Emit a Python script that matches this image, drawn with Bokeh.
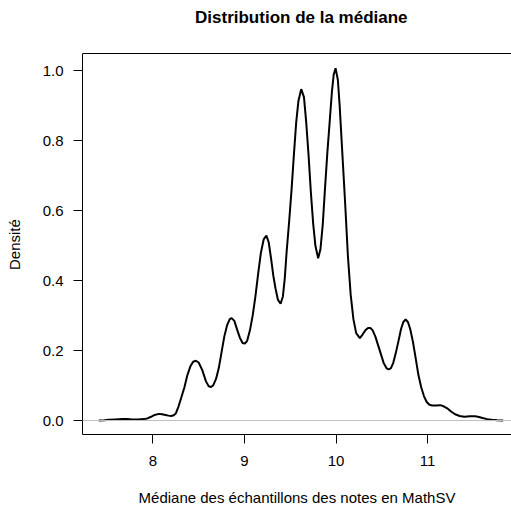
from bokeh.plotting import figure
from bokeh.models import LinearAxis, FixedTicker, PrintfTickFormatter, Span, Range1d, Label
from bokeh.embed import file_html
from bokeh.resources import INLINE

# Density of the median
dens_x = [7.41, 7.47, 7.52, 7.59, 7.666, 7.72, 7.775, 7.84, 7.90, 7.94, 7.975,
          8.02, 8.066, 8.10, 8.139, 8.17, 8.20, 8.228, 8.25, 8.28, 8.31, 8.345,
          8.375, 8.41, 8.44, 8.47, 8.50, 8.54, 8.58, 8.61, 8.635, 8.66, 8.69,
          8.72, 8.75, 8.78, 8.81, 8.84, 8.86, 8.89, 8.92, 8.95, 8.98, 9.005,
          9.03, 9.06, 9.09, 9.12, 9.15, 9.18, 9.21, 9.24, 9.265, 9.29, 9.315,
          9.34, 9.365, 9.395, 9.42, 9.44, 9.46, 9.49, 9.515, 9.54, 9.565, 9.59,
          9.62, 9.65, 9.675, 9.70, 9.725, 9.75, 9.775, 9.805, 9.83, 9.855, 9.88,
          9.905, 9.93, 9.955, 9.975, 9.995, 10.02, 10.04, 10.07, 10.10, 10.13,
          10.16, 10.19, 10.22, 10.26, 10.29, 10.32, 10.35, 10.375, 10.40, 10.43,
          10.46, 10.49, 10.52, 10.55, 10.575, 10.60, 10.625, 10.65, 10.68, 10.71,
          10.735, 10.76, 10.785, 10.81, 10.84, 10.87, 10.90, 10.93, 10.96, 10.99,
          11.02, 11.05, 11.09, 11.14, 11.18, 11.22, 11.26, 11.30, 11.35, 11.40,
          11.46, 11.52, 11.56, 11.60, 11.65, 11.70, 11.76, 11.825]
dens_y = [0.000, 0.001, 0.002, 0.003, 0.004, 0.004, 0.003, 0.003, 0.004, 0.006, 0.010,
          0.016, 0.019, 0.018, 0.016, 0.014, 0.013, 0.015, 0.020, 0.040, 0.065, 0.095,
          0.128, 0.155, 0.168, 0.171, 0.166, 0.144, 0.112, 0.098, 0.096, 0.101, 0.119,
          0.150, 0.195, 0.240, 0.272, 0.290, 0.293, 0.285, 0.260, 0.237, 0.222, 0.220,
          0.228, 0.258, 0.300, 0.355, 0.420, 0.480, 0.518, 0.529, 0.510, 0.465, 0.415,
          0.377, 0.346, 0.334, 0.355, 0.405, 0.480, 0.575, 0.662, 0.760, 0.852, 0.915,
          0.948, 0.925, 0.852, 0.760, 0.655, 0.565, 0.500, 0.464, 0.490, 0.560, 0.665,
          0.765, 0.852, 0.940, 0.990, 1.008, 0.975, 0.900, 0.760, 0.620, 0.470,
          0.360, 0.290, 0.250, 0.236, 0.246, 0.258, 0.265, 0.265, 0.258, 0.240,
          0.215, 0.190, 0.165, 0.150, 0.146, 0.150, 0.165, 0.190, 0.225, 0.262,
          0.282, 0.289, 0.282, 0.262, 0.225, 0.178, 0.130, 0.095, 0.070, 0.053,
          0.045, 0.043, 0.043, 0.044, 0.040, 0.034, 0.025, 0.018, 0.013, 0.011,
          0.012, 0.012, 0.010, 0.007, 0.004, 0.002, 0.001, 0.000]

x_ticks = [8, 9, 10, 11]
y_ticks = [0.0, 0.2, 0.4, 0.6, 0.8, 1.0]
y_lo, y_hi = -0.040, 1.050        # R plot region (box) limits
BOX_TOP_PX = 53                   # height of the title band above the box
FRAME_H = 434                     # frame height in pixels (box bottom at 434)
y_top = y_hi + BOX_TOP_PX * (y_hi - y_lo) / (FRAME_H - BOX_TOP_PX)

FONT = "Liberation Sans"

p = figure(width=511, height=509, output_backend="svg", toolbar_location=None,
           title=None,
           x_range=Range1d(7.232, 11.916), y_range=Range1d(y_lo, y_top),
           min_border_left=82, min_border_right=0, min_border_top=0,
           min_border_bottom=75, x_axis_location=None, y_axis_location=None)
p.outline_line_color = None
p.grid.visible = False
p.background_fill_color = "white"
p.border_fill_color = "white"

def style_axis(ax, size="15px"):
    ax.axis_line_color = "black"
    ax.axis_line_width = 1
    ax.major_tick_line_color = "black"
    ax.major_tick_out = 9
    ax.major_tick_in = 0
    ax.minor_tick_line_color = None
    ax.major_label_text_font = FONT
    ax.major_label_text_font_size = size
    ax.major_label_text_color = "black"
    ax.axis_label_text_font = FONT
    ax.axis_label_text_font_size = size
    ax.axis_label_text_font_style = "normal"
    ax.axis_label_text_color = "black"

xax = LinearAxis(axis_label="Médiane des échantillons des notes en MathSV",
                 ticker=FixedTicker(ticks=x_ticks))
style_axis(xax)
xax.major_label_standoff = 12
xax.axis_label_standoff = 20
p.add_layout(xax, "below")

# The frame also covers the title band, so the label is padded with
# non-breaking spaces to sit centred on the box, as in R.
yax = LinearAxis(axis_label="Densité" + "\u00a0" * 13,
                 ticker=FixedTicker(ticks=y_ticks),
                 formatter=PrintfTickFormatter(format="%.1f"),
                 bounds=(y_lo, y_hi))
style_axis(yax)
yax.major_label_orientation = "horizontal"
yax.major_label_standoff = 10
yax.axis_label_standoff = 17
p.add_layout(yax, "left")

# top edge of the box (R draws a full box; its right side lies outside the window)
p.add_layout(Span(location=y_hi, dimension="width", line_color="black", line_width=1))
# zero line
p.add_layout(Span(location=0, dimension="width", line_color="#bebebe", line_width=1))

# title, in the band above the box
p.add_layout(Label(x=218.8, y=FRAME_H - 17, x_units="screen", y_units="screen",
                   text="Distribution de la médiane", text_font=FONT,
                   text_font_size="17px", text_font_style="bold", text_color="black",
                   text_align="center", text_baseline="middle"))

p.line(dens_x, dens_y, line_color="black", line_width=2)

open("out.html", "w").write(file_html(p, INLINE))
